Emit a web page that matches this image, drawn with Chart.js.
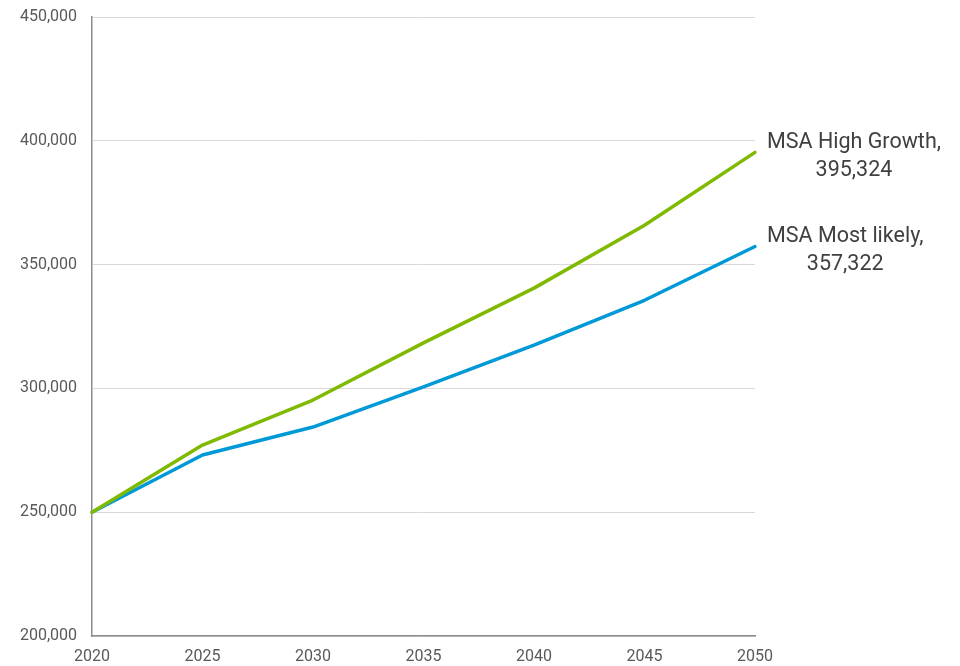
<!DOCTYPE html>
<html>
<head>
<meta charset="utf-8">
<script src="https://cdn.jsdelivr.net/npm/chart.js@4/dist/chart.umd.min.js"></script>
<style>
  html, body { margin: 0; padding: 0; background: #fff; }
  #wrap { width: 960px; height: 666px; position: relative; }
</style>
</head>
<body>
<div id="wrap"><canvas id="chart"></canvas></div>
<script>
/* ===== MSA POPULATION PROJECTION ===== */

const years        = [2020, 2025, 2030, 2035, 2040, 2045, 2050];
const highGrowth   = [250000, 277100, 295300, 318400, 340500, 365900, 395324];
const mostLikely   = [250000, 273100, 284400, 300600, 317500, 335600, 357322];
const seriesNames  = ['MSA High Growth', 'MSA Most likely'];
const yTicks       = [200000, 250000, 300000, 350000, 400000, 450000];

const fmt = v => v.toLocaleString('en-US');

// End-of-line labels ("name,\nvalue") next to the last point
const endLabels = {
  id: 'endLabels',
  afterDatasetsDraw(chart) {
    const ctx = chart.ctx;
    ctx.save();
    ctx.font = '21.5px Roboto';
    ctx.fillStyle = '#404040';
    ctx.textAlign = 'center';
    ctx.textBaseline = 'middle';
    chart.data.datasets.forEach((ds, i) => {
      const pt    = chart.getDatasetMeta(i).data[ds.data.length - 1];
      const line1 = ds.label + ',';
      const line2 = fmt(ds.data[ds.data.length - 1]);
      const w     = Math.max(ctx.measureText(line1).width, ctx.measureText(line2).width);
      const cx    = pt.x + 12 + w / 2;
      ctx.fillText(line1, cx, pt.y - 10);
      ctx.fillText(line2, cx, pt.y + 18);
    });
    ctx.restore();
  },
};

new Chart(document.getElementById('chart'), {
  type: 'line',
  data: {
    labels: years,
    datasets: [
      { label: seriesNames[0], data: highGrowth, borderColor: '#7fba00' },
      { label: seriesNames[1], data: mostLikely, borderColor: '#0099d8' },
    ],
  },
  options: {
    responsive: true,
    maintainAspectRatio: false,
    animation: false,
    events: [],
    layout: { padding: { top: 17, right: 205, left: 0, bottom: 0 } },
    elements: {
      line: { borderWidth: 3.5, tension: 0, borderCapStyle: 'round', borderJoinStyle: 'round' },
      point: { radius: 0 },
    },
    plugins: {
      legend: { display: false },
      tooltip: { enabled: false },
    },
    scales: {
      x: {
        offset: false,
        grid: { display: false, drawTicks: false },
        border: { display: true, color: '#8c8c8c', width: 1.5 },
        ticks: {
          color: '#595959',
          font: { family: 'Roboto', size: 16 },
          padding: 11,
          maxRotation: 0,
          autoSkip: false,
        },
        afterFit: s => { s.height = 30; s.paddingLeft = 0; s.paddingRight = 0; },
      },
      y: {
        min: 200000,
        max: 450000,
        afterBuildTicks: s => { s.ticks = yTicks.map(v => ({ value: v })); },
        grid: { color: '#d9d9d9', lineWidth: 1, drawTicks: false },
        border: { display: true, color: '#8c8c8c', width: 1.5 },
        ticks: {
          color: '#595959',
          font: { family: 'Roboto', size: 16 },
          padding: 15,
          callback: v => fmt(v),
        },
        afterFit: s => { s.width = 92; s.paddingTop = 0; s.paddingBottom = 0; },
      },
    },
  },
  plugins: [endLabels],
});
</script>
</body>
</html>
